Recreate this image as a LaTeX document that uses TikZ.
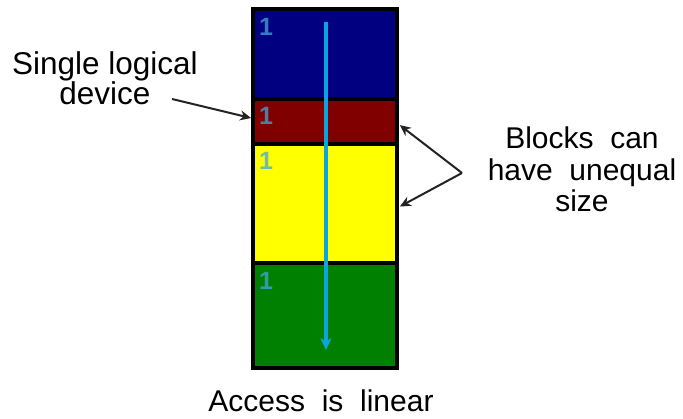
\documentclass[tikz,border=0pt]{standalone}
\usepackage{fontspec}
\setmainfont{Liberation Sans}
\usetikzlibrary{arrows.meta}
\definecolor{bnavy}{RGB}{0,0,128}
\definecolor{bmaroon}{RGB}{128,0,0}
\definecolor{byellow}{RGB}{255,255,0}
\definecolor{bgreen}{RGB}{0,128,0}
\definecolor{acc}{RGB}{10,165,225}
\definecolor{onecol}{RGB}{70,165,215}
\definecolor{pointer}{RGB}{35,35,35}
\begin{document}
\begin{tikzpicture}[x=1pt,y=-1pt,
  blockbox/.style={draw=black, line width=4pt, anchor=north west, minimum width=144pt, inner sep=0pt, outer sep=0pt},
  onelabel/.style={text=onecol, opacity=0.75, font=\fontsize{25}{25}\selectfont\bfseries, anchor=north west, inner sep=0pt},
  caption/.style={font=\fontsize{30}{31.5}\selectfont, align=center, inner sep=0pt, text=black},
  pointerarrow/.style={draw=pointer, line width=2pt, -{Stealth[length=11pt,width=10pt]}}
]
\useasboundingbox (0,0) rectangle (683,419);
% blocks
\node[blockbox, fill=bnavy, minimum height=89.5pt] (blue) at (253,9.5) {};
\node[blockbox, fill=bmaroon, minimum height=45pt] (red) at (253,99) {};
\node[blockbox, fill=byellow, minimum height=119pt] (yellow) at (253,144) {};
\node[blockbox, fill=bgreen, minimum height=105pt] (green) at (253,263) {};
% labels "1"
\node[onelabel] (one1) at (259,18) {1};
\node[onelabel] (one2) at (259,107) {1};
\node[onelabel] (one3) at (259,152) {1};
\node[onelabel] (one4) at (259,272) {1};
% access arrow
\draw[acc, line width=3.5pt, -{Stealth[length=12pt,width=11pt]}] ([xshift=1pt,yshift=-12.5pt]blue.north) -- ([xshift=1pt,yshift=18pt]green.south);
% texts
\node[caption, font=\fontsize{31.5}{29}\selectfont] (single) at (105,78) {Single logical\\device};
\node[caption] (blocks) at (582,169.5) {Blocks\ \ can\\have\ \ unequal\\size};
\node[caption, font=\fontsize{30}{31.5}\selectfont, anchor=base] (access) at (321,412) {Access\ \ is\ \ linear};
% pointers
\coordinate (sstart) at (172,99);
\coordinate (vtx) at (462,173);
\draw[pointerarrow, shorten >=2pt] (sstart) -- ([yshift=3pt]red.west);
\draw[pointerarrow, shorten >=1pt] (vtx) -- ([xshift=2pt,yshift=-3pt]red.east);
\draw[pointerarrow, shorten >=1pt] (vtx) -- ([xshift=2pt,yshift=-3.5pt]yellow.east);
\end{tikzpicture}
\end{document}
